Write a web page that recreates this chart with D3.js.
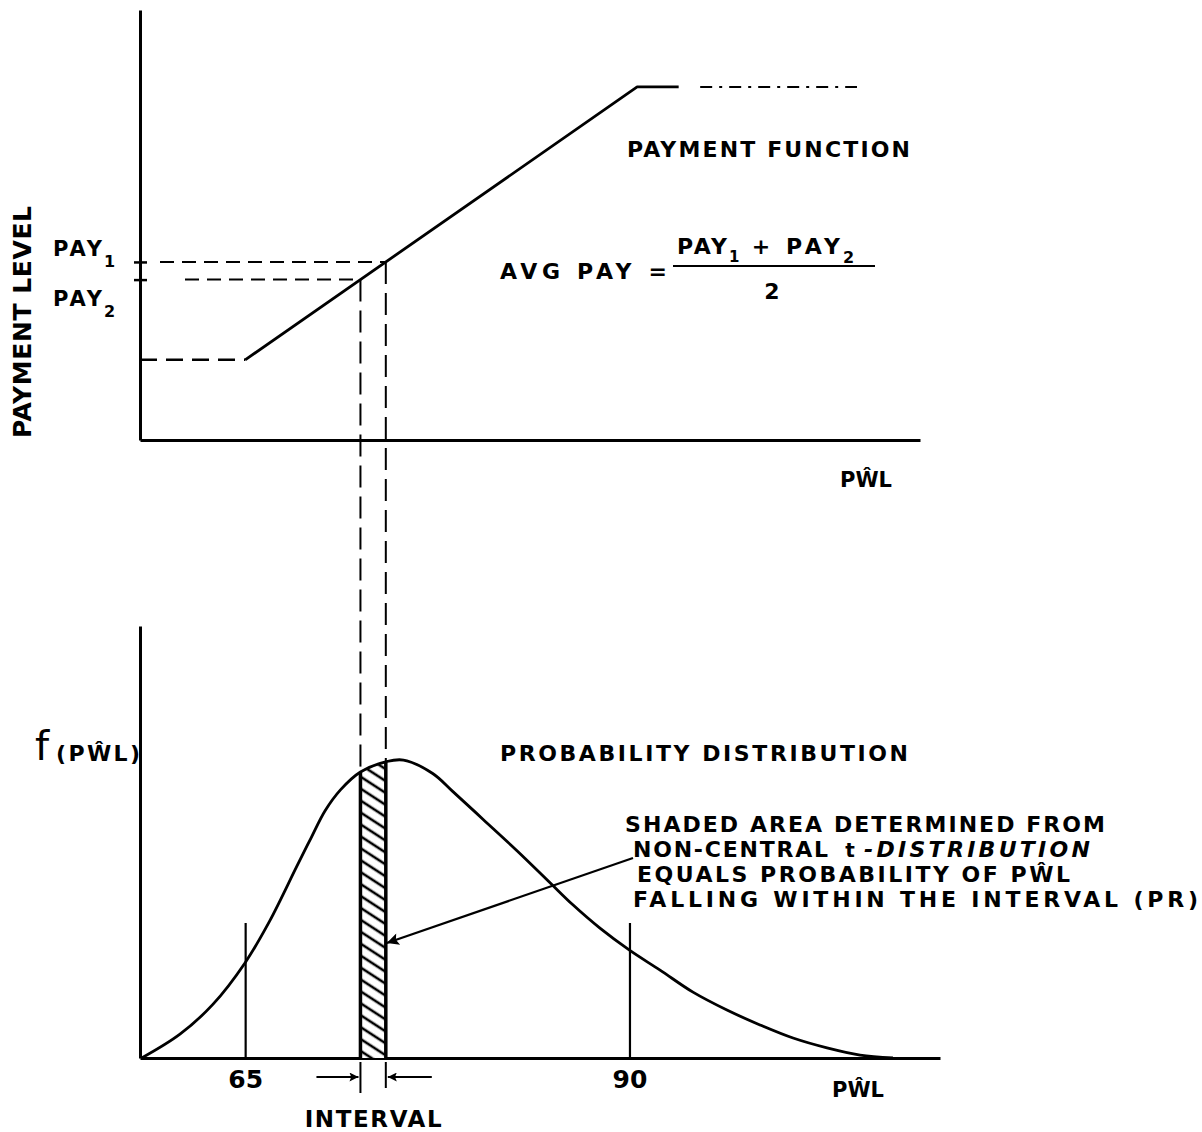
<!DOCTYPE html>
<html>
<head>
<meta charset="utf-8">
<script src="https://cdn.jsdelivr.net/npm/d3@7"></script>
<style>
  html, body { margin: 0; padding: 0; background: #fff; }
  svg { display: block; }
</style>
</head>
<body>
<script>
// ---------------- DATA ----------------
// Probability distribution of PWL-hat (peak normalised to 1)
const pwlPoints     = [58.27, 60.76, 62.90, 65.00, 66.60, 68.35, 69.30, 70.20, 71.20, 72.50, 74.20, 75.30, 77.20, 78.50, 80.50, 82.70, 84.80, 86.30, 88.10, 90.00, 91.99, 94.13, 96.34, 98.49, 100.64, 102.85, 105.00, 107.14];
const densityPoints = [0.000, 0.080, 0.180, 0.320, 0.460, 0.642, 0.740, 0.830, 0.900, 0.960, 0.995, 1.000, 0.955, 0.895, 0.800, 0.695, 0.590, 0.515, 0.435, 0.362, 0.295, 0.221, 0.161, 0.111, 0.067, 0.034, 0.010, 0.000];

// Payment function: flat below / above the two knots, linear between
const paymentKnots  = [65, 90.5];
const paymentLevels = [22.7, 100];

// Interval on PWL-hat
const intervalBounds = [72.5, 74.15];

// Bottom axis ticks
const xTickValues = [65, 90];
const xTickLabels = ["65", "90"];

// Annotation
const annotationLines = [
  "SHADED AREA DETERMINED FROM",
  "NON-CENTRAL",
  "EQUALS PROBABILITY OF P\u0174L",
  "FALLING WITHIN THE INTERVAL (PR)"
];

// ---------------- SETUP ----------------
const W = 1202, H = 1132;
const FONT = "'DejaVu Sans', 'Liberation Sans', sans-serif";
const svg = d3.select("body").append("svg").attr("width", W).attr("height", H);

const x = d3.scaleLinear().domain([58.16, 110.2]).range([140, 940]);
const xTop = x.copy().domain([58.16, x.invert(920)]).range([140, 920]);
const yTop = d3.scaleLinear().domain([0, 121.8]).range([440, 10]);
const yB = d3.scaleLinear().domain([0, 1.45]).range([1058, 626]);

const payAt = p => {
  if (p <= paymentKnots[0]) return paymentLevels[0];
  if (p >= paymentKnots[1]) return paymentLevels[1];
  return paymentLevels[0] + (p - paymentKnots[0]) / (paymentKnots[1] - paymentKnots[0]) * (paymentLevels[1] - paymentLevels[0]);
};
const pay1 = payAt(intervalBounds[1]);
const pay2 = payAt(intervalBounds[0]);

const defs = svg.append("defs");
function marker(id, len, wid) {
  defs.append("marker").attr("id", id)
    .attr("viewBox", "0 0 10 10").attr("refX", 10).attr("refY", 5)
    .attr("markerUnits", "userSpaceOnUse")
    .attr("markerWidth", len).attr("markerHeight", wid)
    .attr("orient", "auto")
    .append("path").attr("d", "M0,0 L10,5 L0,10 L2,5 z").attr("fill", "#000");
}
marker("arrowBig", 18, 12);
marker("arrowSmall", 12, 9);

const hatch = defs.append("pattern").attr("id", "hatch")
  .attr("patternUnits", "userSpaceOnUse").attr("width", 10).attr("height", 10)
  .attr("patternTransform", "rotate(33)");
hatch.append("rect").attr("width", 10).attr("height", 10).attr("fill", "#fff");
hatch.append("line").attr("x1", 0).attr("x2", 10).attr("y1", 5).attr("y2", 5)
  .attr("stroke", "#000").attr("stroke-width", 2.6);

function txt(str, px, py, size, len, opts = {}) {
  const t = svg.append("text").attr("x", px).attr("y", py)
    .attr("font-family", opts.family || FONT)
    .attr("font-size", size)
    .attr("font-weight", opts.weight || "bold")
    .attr("font-style", opts.style || "normal")
    .attr("text-anchor", opts.anchor || "start")
    .attr("fill", "#000")
    .text(str);
  if (len) t.attr("textLength", len).attr("lengthAdjust", opts.adjust || "spacing");
  if (opts.transform) t.attr("transform", opts.transform);
  return t;
}
function seg(x1, y1, x2, y2, sw, dash) {
  const l = svg.append("line").attr("x1", x1).attr("y1", y1).attr("x2", x2).attr("y2", y2)
    .attr("stroke", "#000").attr("stroke-width", sw).attr("stroke-linecap", "butt");
  if (dash) l.attr("stroke-dasharray", dash);
  return l;
}

// ---------------- TOP PANEL ----------------
const axTopX = svg.append("g").attr("transform", `translate(0,${yTop(0)})`)
  .call(d3.axisBottom(xTop).tickValues([]).tickSizeOuter(0));
const axTopY = svg.append("g").attr("transform", `translate(${xTop(xTop.domain()[0])},0)`)
  .call(d3.axisLeft(yTop).tickValues([pay1, pay2]).tickSizeInner(6).tickSizeOuter(0).tickFormat(""));
axTopY.selectAll(".tick line").attr("x1", 7).attr("x2", -6).attr("stroke-width", 2.5);
[axTopX, axTopY].forEach(a => a.select(".domain").attr("stroke", "#000").attr("stroke-width", 3));

// payment function
const lineTop = d3.line().x(d => xTop(d[0])).y(d => yTop(d[1]));
svg.append("path")
  .attr("d", lineTop([[xTop.domain()[0], paymentLevels[0]], [paymentKnots[0], paymentLevels[0]]]))
  .attr("stroke", "#000").attr("stroke-width", 2.5).attr("fill", "none").attr("stroke-dasharray", "17,9");
svg.append("path")
  .attr("d", lineTop([[paymentKnots[0], paymentLevels[0]], [paymentKnots[1], paymentLevels[1]], [93.2, paymentLevels[1]]]))
  .attr("stroke", "#000").attr("stroke-width", 2.8).attr("fill", "none").attr("stroke-linejoin", "round");
svg.append("path")
  .attr("d", lineTop([[94.6, paymentLevels[1]], [104.8, paymentLevels[1]]]))
  .attr("stroke", "#000").attr("stroke-width", 2).attr("fill", "none").attr("stroke-dasharray", "12,7,3,7");

// horizontal guides to PAY1 / PAY2
seg(160, yTop(pay1), x(intervalBounds[1]), yTop(pay1), 2, "14,8");
seg(185, yTop(pay2), x(intervalBounds[0]), yTop(pay2), 2, "14,8");

// texts top
txt("PAYMENT LEVEL", 0, 0, 25, 232, { transform: `translate(31,438) rotate(-90)` });
txt("PAY", 53, 256, 21, 49);
txt("1", 104, 267, 16, null);
txt("PAY", 53, 306, 21, 49);
txt("2", 104, 317, 16, null);
txt("PAYMENT FUNCTION", 627, 157, 22, 283, { weight: "600" });
txt("AVG PAY =", 500, 279, 22, 167, { weight: "600" });
txt("PAY", 677, 254, 22, 50, { weight: "600" });
txt("1", 729, 262, 15, null, { weight: "600" });
txt("+", 761, 254, 22, null, { weight: "600", anchor: "middle" });
txt("PAY", 786, 254, 22, 54, { weight: "600" });
txt("2", 843, 263, 16, null, { weight: "600" });
seg(673, 266, 875, 266, 2.2);
txt("2", 772, 299, 22, null, { weight: "600", anchor: "middle" });
txt("P\u0174L", 866, 487, 21, null, { anchor: "middle", weight: "600" });

// ---------------- BOTTOM PANEL ----------------
const axB = svg.append("g").attr("transform", `translate(0,${yB(0)})`)
  .call(d3.axisBottom(x).tickValues(xTickValues).tickFormat((d, i) => xTickLabels[i])
    .tickSizeInner(-135).tickSizeOuter(0).tickPadding(12));
axB.select(".domain").attr("stroke", "#000").attr("stroke-width", 3);
axB.selectAll(".tick line").attr("stroke", "#000").attr("stroke-width", 2.2);
axB.selectAll(".tick text").attr("font-family", FONT).attr("font-size", 25)
  .attr("font-weight", "600").attr("fill", "#000");

const axBY = svg.append("g").attr("transform", `translate(${x(x.domain()[0])},0)`)
  .call(d3.axisLeft(yB).tickValues([]).tickSizeOuter(0));
axBY.select(".domain").attr("stroke", "#000").attr("stroke-width", 3);

const pts = pwlPoints.map((p, i) => [p, densityPoints[i]]);
const crv = d3.curveCatmullRom.alpha(0.5);
const area = d3.area().x(d => x(d[0])).y0(yB(0)).y1(d => yB(d[1])).curve(crv);
const line = d3.line().x(d => x(d[0])).y(d => yB(d[1])).curve(crv);

defs.append("clipPath").attr("id", "areaClip").append("path").attr("d", area(pts));

const shaded = svg.append("g").attr("clip-path", "url(#areaClip)");
shaded.append("rect")
  .attr("x", x(intervalBounds[0])).attr("width", x(intervalBounds[1]) - x(intervalBounds[0]))
  .attr("y", 600).attr("height", yB(0) - 600)
  .attr("fill", "url(#hatch)");
intervalBounds.forEach(b => {
  shaded.append("line").attr("x1", x(b)).attr("x2", x(b)).attr("y1", 600).attr("y2", yB(0))
    .attr("stroke", "#000").attr("stroke-width", 3.5);
});

const curvePath = svg.append("path").attr("d", line(pts))
  .attr("fill", "none").attr("stroke", "#000").attr("stroke-width", 2.8);

function curveYAt(px) {
  const node = curvePath.node();
  let lo = 0, hi = node.getTotalLength();
  for (let k = 0; k < 40; k++) {
    const mid = (lo + hi) / 2;
    if (node.getPointAtLength(mid).x < px) lo = mid; else hi = mid;
  }
  return node.getPointAtLength((lo + hi) / 2).y;
}

// vertical dashed guides from payment function to the distribution
seg(x(intervalBounds[0]), yTop(pay2), x(intervalBounds[0]), curveYAt(x(intervalBounds[0])), 2, "22,9");
seg(x(intervalBounds[1]), yTop(pay1), x(intervalBounds[1]), curveYAt(x(intervalBounds[1])), 2, "22,9");

// interval arrows
const xa = x(intervalBounds[0]), xb = x(intervalBounds[1]);
seg(xa, 1062, xa, 1093, 2);
seg(xb, 1062, xb, 1088, 2);
seg(xa - 44, 1077, xa - 2, 1077, 2).attr("marker-end", "url(#arrowSmall)");
seg(xb + 46, 1077, xb + 2, 1077, 2).attr("marker-end", "url(#arrowSmall)");
txt("INTERVAL", (xa + xb) / 2, 1127, 23, 137, { anchor: "middle", weight: "600" });
txt("P\u0174L", 858, 1097, 21, null, { anchor: "middle", weight: "600" });

// labels bottom
txt("f", 35, 760, 40, null, { weight: "normal" });
txt("(P\u0174L)", 56, 761, 22, 84, { weight: "bold" });
txt("PROBABILITY DISTRIBUTION", 500, 761, 22, 408, { weight: "600" });

// annotation
txt(annotationLines[0], 625, 832, 22, 480, { weight: "600" });
txt(annotationLines[1], 633, 857, 22, 195, { weight: "600" });
txt("t", 850, 857, 20, null, { weight: "bold", anchor: "middle" });
txt("-DISTRIBUTION", 864, 857, 22, 226, { weight: "600", style: "italic" });
txt(annotationLines[2], 637, 882, 22, 433, { weight: "600" });
txt(annotationLines[3], 633, 907, 22, 565, { weight: "600" });

// annotation arrow pointing to the shaded interval
seg(633, 858, xb + 1, 943, 2.2).attr("marker-end", "url(#arrowBig)");
</script>
</body>
</html>
